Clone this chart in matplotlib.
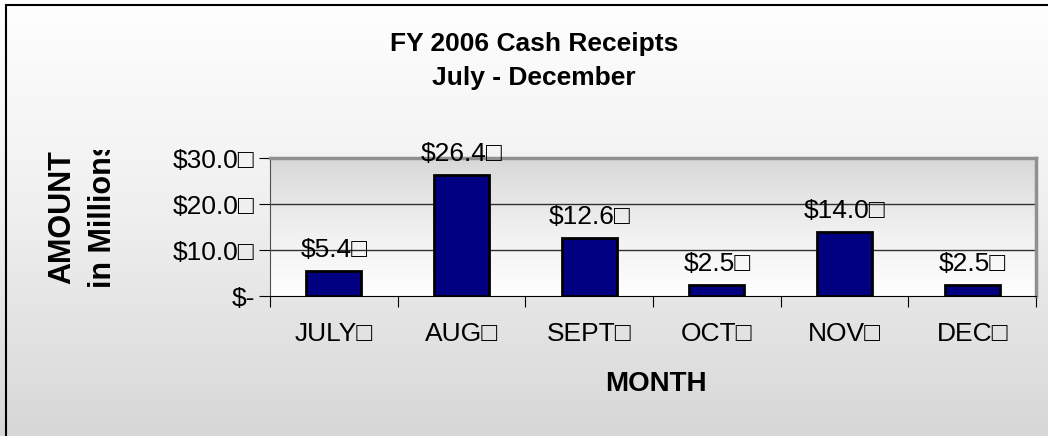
import numpy as np
import matplotlib.pyplot as plt
from matplotlib.patches import Rectangle
from matplotlib.transforms import Bbox, TransformedBbox

plt.rcParams['font.family'] = ['Liberation Sans', 'DejaVu Sans']

# 数据
months = ['JULY', 'AUG', 'SEPT', 'OCT', 'NOV', 'DEC']
receipts = [5.4, 26.4, 12.6, 2.5, 14.0, 2.5]
yticks = [0, 10, 20, 30]
ytick_labels = ['$-', '$10.0\u25a1', '$20.0\u25a1', '$30.0\u25a1']

W, H = 1048, 436
fig = plt.figure(figsize=(W / 100, H / 100), dpi=100)

# 背景渐变（上白下灰）
bg = fig.add_axes([0, 0, 1, 1], zorder=-10)
grad = np.linspace(0, 1, 256).reshape(-1, 1)
bg.imshow(grad, aspect='auto', cmap='Greys', vmin=-0.02, vmax=3.9,
          extent=[0, 1, 0, 1], origin='upper')
bg.add_patch(Rectangle((6 / W, -0.1), 1.2, (H - 5) / H + 0.1,
                       fill=False, edgecolor='black', lw=1.5,
                       transform=bg.transAxes))
bg.set_xlim(0, 1)
bg.set_ylim(0, 1)
bg.axis('off')

ax = fig.add_axes([270 / W, 140 / H, 766 / W, 138 / H])
x = np.arange(len(months))
ax.set_xlim(-0.5, len(months) - 0.5)
ax.set_ylim(0, 30)

# 绘图区渐变（上灰下白）
ax.imshow(grad, aspect='auto', cmap='Greys', vmin=-0.02, vmax=3.9,
          extent=[-0.5, len(months) - 0.5, 0, 30], origin='lower', zorder=0)

for v in [10, 20]:
    ax.axhline(v, color='#303030', lw=1.0, zorder=1)

ax.bar(x, receipts, width=0.43, color='#000080', edgecolor='black',
       linewidth=2, zorder=3)

# 数据标签
for xi, v in zip(x, receipts):
    ax.annotate('$%.1f\u25a1' % v, (xi, v), xytext=(0, 10),
                textcoords='offset points', ha='center', va='baseline',
                fontsize=19, zorder=4, annotation_clip=False)

ax.set_yticks(yticks)
ax.set_yticklabels(ytick_labels, fontsize=19)
ax.set_xticks(np.arange(len(months) + 1) - 0.5)
ax.set_xticklabels([])
ax.set_xticks(x, minor=True)
ax.set_xticklabels([m + '\u25a1' for m in months], minor=True, fontsize=19)
ax.tick_params(axis='x', which='minor', length=0, pad=19)
ax.tick_params(axis='x', which='major', direction='out', length=8)
ax.tick_params(axis='y', direction='out', length=8, pad=3)

ax.spines['top'].set_color('#909090')
ax.spines['top'].set_linewidth(2.5)
ax.spines['right'].set_color('#909090')
ax.spines['right'].set_linewidth(2.5)
ax.spines['left'].set_color('#505050')
ax.spines['bottom'].set_color('black')

fig.text(656 / W, 1 - 384 / H, 'MONTH', ha='center', va='center',
         fontsize=20, fontweight='bold')

fig.text(62 / W, 1 - 217 / H, 'AMOUNT', rotation=90, ha='center',
         va='center', fontsize=22, fontweight='bold')
t = fig.text(103 / W, 1 - 288 / H, 'in Millions', rotation=90, ha='center',
             va='bottom', fontsize=22, fontweight='bold')
t.set_clip_box(TransformedBbox(Bbox.from_extents(0, 0, 1, 1 - 150 / H),
                               fig.transFigure))
t.set_clip_on(True)

fig.text(534 / W, 1 - 51 / H, 'FY 2006 Cash Receipts', ha='center',
         va='baseline', fontsize=19, fontweight='bold')
fig.text(534 / W, 1 - 85 / H, 'July - December', ha='center',
         va='baseline', fontsize=19, fontweight='bold')

fig.savefig('out.png', dpi=100)
